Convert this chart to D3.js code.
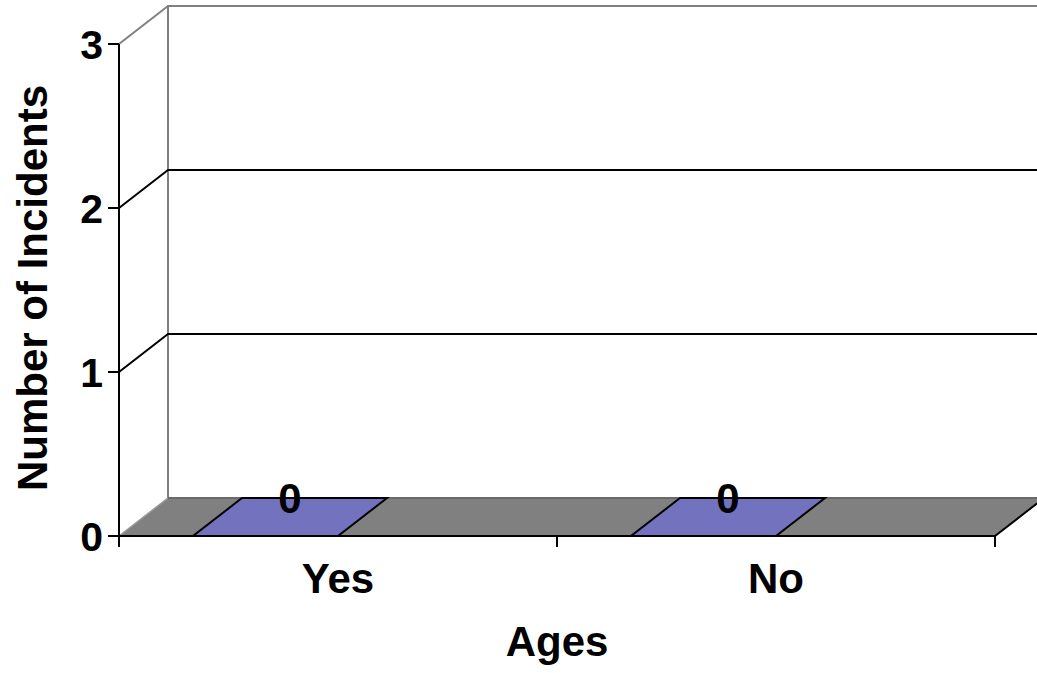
<!DOCTYPE html>
<html>
<head>
<meta charset="utf-8">
<script src="https://cdn.jsdelivr.net/npm/d3@7"></script>
<style>
  body { margin: 0; background: #fff; }
  svg { display: block; font-family: Arial, "Liberation Sans", sans-serif; font-weight: bold; }
</style>
</head>
<body>
<div id="chart"></div>
<script>
// chart data
var categories = ["Yes", "No"];
var values = [0, 0];
var yTicks = [0, 1, 2, 3];
var xTitle = "Ages";
var yTitle = "Number of Incidents";

const width = 1037, height = 673;
const depthX = 49, depthY = -38;   // 3d offset of the back wall

const x = d3.scaleBand().domain(categories).range([119, 995]).paddingInner(0).paddingOuter(0);
const y = d3.scaleLinear().domain([0, 3]).range([536, 44]);

const svg = d3.select("#chart").append("svg")
    .attr("width", width)
    .attr("height", height);

const x0 = x.range()[0], x1 = x.range()[1];
const yTop = y(3), yBot = y(0);

// floor
svg.append("path")
    .attr("d", `M${x0},${yBot}L${x1},${yBot}L${x1 + depthX},${yBot + depthY}L${x0 + depthX},${yBot + depthY}Z`)
    .attr("fill", "#808080")
    .attr("stroke", "none");

// back wall left edge + top edge + side top diagonal (gray)
svg.append("path")
    .attr("d", `M${x0 + depthX},${yBot + depthY}V${yTop + depthY}H${width}`)
    .attr("fill", "none").attr("stroke", "#808080").attr("stroke-width", 2);
svg.append("path")
    .attr("d", `M${x0},${yTop}L${x0 + depthX},${yTop + depthY}`)
    .attr("fill", "none").attr("stroke", "#808080").attr("stroke-width", 2);
svg.append("path")
    .attr("d", `M${x0},${yBot}L${x0 + depthX},${yBot + depthY}`)
    .attr("fill", "none").attr("stroke", "#9a9a9a").attr("stroke-width", 1.5);
svg.append("path")
    .attr("d", `M${x0 + depthX},${yBot + depthY}H${width}`)
    .attr("fill", "none").attr("stroke", "#6a6a6a").attr("stroke-width", 2);

// gridlines
svg.append("g").selectAll("path")
  .data(yTicks.filter(d => d > 0 && d < 3))
  .join("path")
    .attr("d", d => `M${x0},${y(d)}L${x0 + depthX},${y(d) + depthY}H${width}`)
    .attr("fill", "none").attr("stroke", "#000").attr("stroke-width", 2);

// bars (zero height, only top face visible)
const barOff = x.bandwidth() * 74 / 438, barW = x.bandwidth() * 145 / 438;
svg.append("g").selectAll("path")
  .data(categories.map((c, i) => ({c: c, v: values[i]})))
  .join("path")
    .attr("d", d => {
      const l = x(d.c) + barOff, r = l + barW, yy = y(d.v);
      return `M${l},${yy}L${r},${yy}L${r + depthX},${yy + depthY}L${l + depthX},${yy + depthY}Z`;
    })
    .attr("fill", "#7272bf")
    .attr("stroke", "#000").attr("stroke-width", 2);

// floor front edge and right side
svg.append("path")
    .attr("d", `M${x0},${yBot}H${x1}L${x1 + depthX},${yBot + depthY}`)
    .attr("fill", "none").attr("stroke", "#000").attr("stroke-width", 2);

// y axis
svg.append("line").attr("x1", x0).attr("x2", x0).attr("y1", yTop).attr("y2", yBot + 1)
    .attr("stroke", "#000").attr("stroke-width", 2);
const yt = svg.append("g").selectAll("g").data(yTicks).join("g");
yt.append("line").attr("x1", x0 - 11).attr("x2", x0).attr("y1", d => y(d)).attr("y2", d => y(d))
    .attr("stroke", "#000").attr("stroke-width", 2);
yt.append("text")
    .attr("x", x0 - 16).attr("y", d => y(d)).attr("dy", "0.36em")
    .attr("text-anchor", "end").attr("font-size", 41)
    .text(d => d);

// x axis ticks
const xt = [x0].concat(categories.map(c => x(c) + x.bandwidth()));
svg.append("g").selectAll("line").data(xt).join("line")
    .attr("x1", d => d).attr("x2", d => d).attr("y1", yBot).attr("y2", yBot + 11)
    .attr("stroke", "#000").attr("stroke-width", 2);
svg.append("g").selectAll("text").data(categories).join("text")
    .attr("x", d => x(d) + x.bandwidth() / 2).attr("y", 593)
    .attr("text-anchor", "middle").attr("font-size", 42)
    .text(d => d);

// value labels
svg.append("g").selectAll("text").data(categories.map((c, i) => ({c: c, v: values[i]}))).join("text")
    .attr("x", d => x(d.c) + barOff + barW / 2 + depthX / 2)
    .attr("y", d => y(d.v) - 23)
    .attr("text-anchor", "middle").attr("font-size", 42)
    .text(d => d.v);

// titles
svg.append("text").attr("x", (x0 + x1) / 2).attr("y", 656)
    .attr("text-anchor", "middle").attr("font-size", 42).text(xTitle);
svg.append("text").attr("transform", "translate(47,288) rotate(-90)")
    .attr("text-anchor", "middle").attr("font-size", 42).text(yTitle);
</script>
</body>
</html>
